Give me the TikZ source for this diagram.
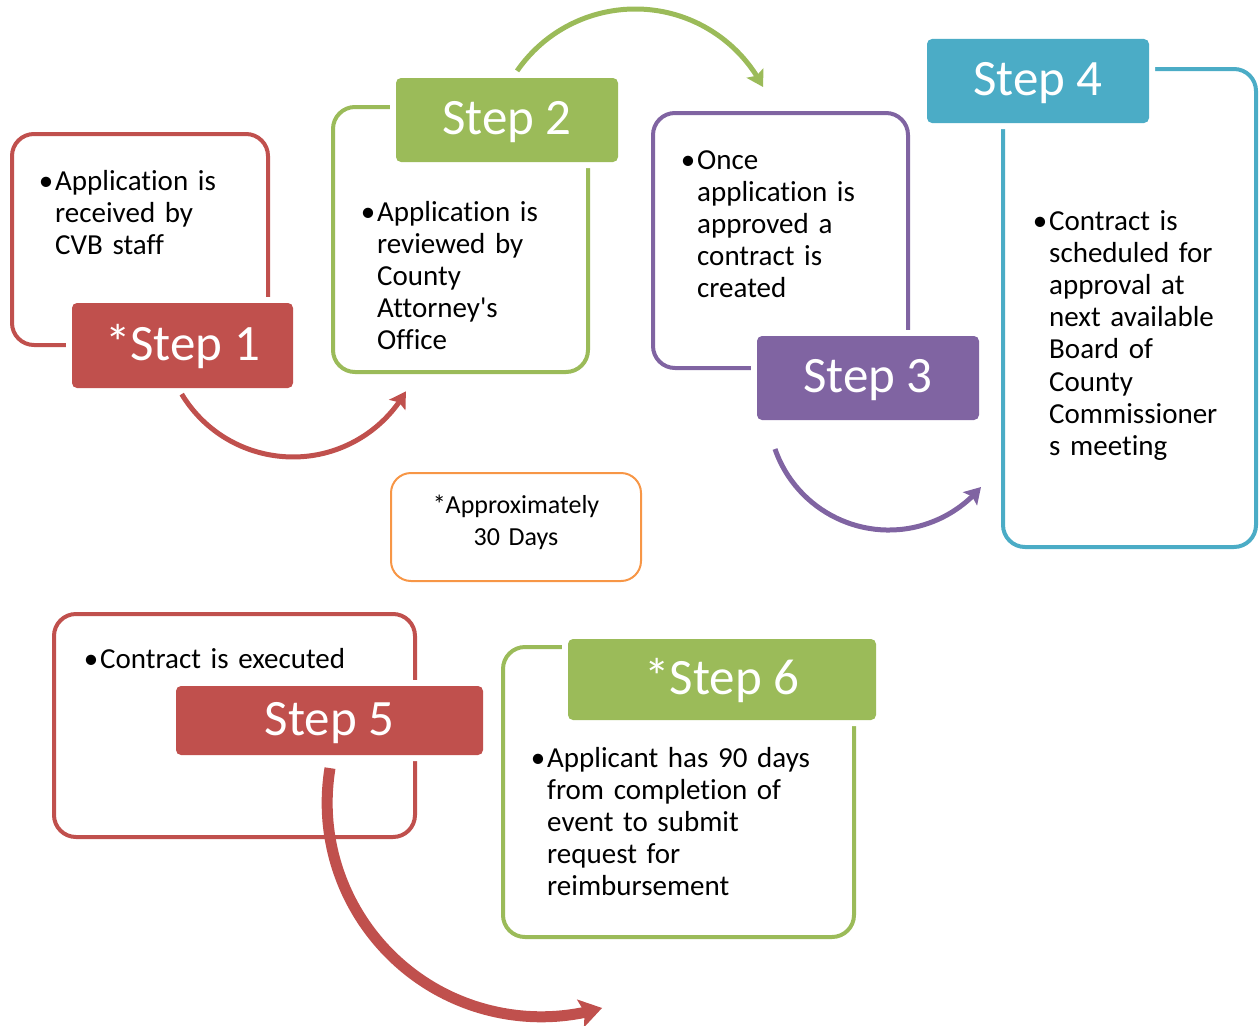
\documentclass[tikz,border=0pt]{standalone}
\usepackage{fontspec}
\setmainfont{Carlito}[Ligatures=NoCommon]
\newfontfamily\plainq{Carlito}[Ligatures={TeXOff,NoCommon}]
\usetikzlibrary{arrows.meta,bending}
\definecolor{cred}{HTML}{C0504D}
\definecolor{cgreen}{HTML}{9BBB59}
\definecolor{cpurple}{HTML}{8064A2}
\definecolor{cteal}{HTML}{4BACC6}
\definecolor{corange}{HTML}{F79646}
\begin{document}
\begin{tikzpicture}[x=1pt,y=-1pt,
  frame/.style={draw=#1, line width=4pt, rounded corners=22pt, inner sep=0pt},
  tag/.style={fill=#1, text=white, rounded corners=5pt, inner sep=0pt,
    preaction={draw=white, line width=12pt},
    font=\fontsize{51}{60}\selectfont, text height=33pt, text depth=4pt},
  body/.style={anchor=base west, inner sep=0pt, align=left, text width=#1,
    font=\fontsize{29}{32.2}\selectfont},
  flow/.style={draw=#1, line width=5pt, -{Stealth[length=16pt,width=19pt,inset=3pt]}},
  bigflow/.style={draw=#1, line width=11pt, -{Stealth[length=22pt,width=28pt,inset=4pt]}},
]
\useasboundingbox (0,0) rectangle (1260,1025);

% outline boxes
\node[frame=cred, minimum width=256pt, minimum height=211pt] (b1) at (140,239.5) {};
\node[frame=cgreen, minimum width=255pt, minimum height=265pt] (b2) at (460.5,239.5) {};
\node[frame=cpurple, minimum width=255pt, minimum height=255pt] (b3) at (780.5,240.5) {};
\node[frame=cteal, minimum width=253pt, minimum height=478pt] (b4) at (1129.5,308) {};
\node[frame=cred, minimum width=361pt, minimum height=223pt] (b5) at (234.5,725.5) {};
\node[frame=cgreen, minimum width=351pt, minimum height=290pt] (b6) at (678.5,792) {};
\node[draw=corange, line width=2pt, rounded corners=20pt, inner sep=0pt,
      minimum width=250pt, minimum height=108pt] (ap) at (516,527) {};

% step tags
\node[tag=cred, minimum width=221pt, minimum height=85pt] (t1) at (182.5,345.5) {*Step 1};
\node[tag=cgreen, minimum width=222pt, minimum height=84pt] (t2) at (507,120) {Step 2};
\node[tag=cpurple, minimum width=222pt, minimum height=84pt] (t3) at (868,378) {Step 3};
\node[tag=cteal, minimum width=222pt, minimum height=84pt] (t4) at (1038,81) {Step 4};
\node[tag=cred, minimum width=307pt, minimum height=69pt] (t5) at (329.5,720.5) {Step 5};
\node[tag=cgreen, minimum width=308pt, minimum height=81pt] (t6) at (722,679.5) {*Step 6};

% texts
\node[body=200pt] (x1) at (55,190) {\llap{•\kern2pt}Application is\\received by\\CVB staff};
\node[body=200pt] (x2) at (377,221) {\llap{•\kern2pt}Application is\\reviewed by\\County\\Attorney{\plainq'}s\\Office};
\node[body=200pt] (x3) at (697,169) {\llap{•\kern2pt}Once\\application is\\approved a\\contract is\\created};
\node[body=200pt] (x4) at (1049,230) {\llap{•\kern2pt}Contract is\\scheduled for\\approval at\\next available\\Board of\\County\\Commissioner\\s meeting};
\node[body=300pt] (x5) at (100,668) {\llap{•\kern2pt}Contract is executed};
\node[body=300pt] (x6) at (547,767) {\llap{•\kern2pt}Applicant has 90 days\\from completion of\\event to submit\\request for\\reimbursement};
\node[anchor=base, inner sep=0pt, text width=240pt, align=center,
      font=\fontsize{26}{32}\selectfont] (xa) at (516,513) {*Approximately\\30 Days};

% arrows
\coordinate (a1s) at (181.7,394.1);
\coordinate (a2s) at (517.1,70.9);
\coordinate (a3s) at (775,449);
\coordinate (a5s) at (330,768.1);
\draw[flow=cred] (a1s) arc[start angle=148.9, end angle=29.7, radius=130];
\draw[flow=cgreen] (a2s) arc[start angle=-145.3, end angle=-27.2, radius=143.7];
\draw[flow=cpurple] (a3s) arc[start angle=160.9, end angle=40, radius=120.4];
\draw[bigflow=cred] (a5s) arc[start angle=189.3, end angle=73.5, radius=214.1];
\end{tikzpicture}
\end{document}
